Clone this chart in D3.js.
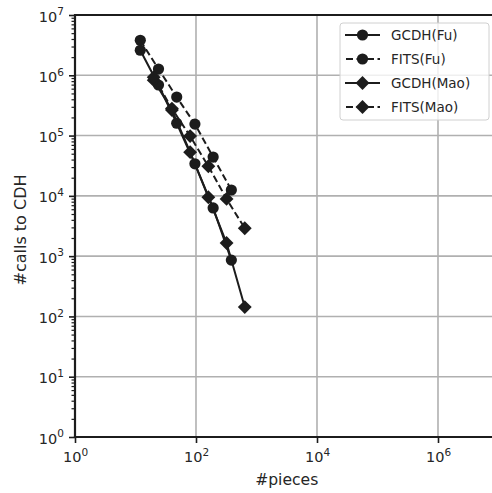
<!DOCTYPE html>
<html>
<head>
<meta charset="utf-8">
<script src="https://cdn.jsdelivr.net/npm/d3@7"></script>
<style>
    body { margin: 0; background: #fff; }
    svg { display: block; font-family: "DejaVu Sans", sans-serif; }
</style>
</head>
<body>
<svg id="drawing_region"></svg>
<script>
// data
const seriesNames = ["GCDH(Fu)", "FITS(Fu)", "GCDH(Mao)", "FITS(Mao)"];
const piecesFu  = [12, 24, 48, 96, 192, 384];
const piecesMao = [20, 40, 80, 160, 320, 640];
const gcdhFu  = [2.6e6, 6.9e5, 1.6e5, 3.4e4, 6.3e3, 860];
const fitsFu  = [3.8e6, 1.27e6, 4.35e5, 1.55e5, 4.4e4, 1.25e4];
const gcdhMao = [8.3e5, 2.65e5, 5.3e4, 9.5e3, 1.65e3, 143];
const fitsMao = [9.3e5, 2.8e5, 9.8e4, 3.1e4, 8.9e3, 2.9e3];
const xTickValues = [1, 1e2, 1e4, 1e6];
const yTickValues = [1, 1e1, 1e2, 1e3, 1e4, 1e5, 1e6, 1e7];

const config = {
    width: 492,
    height: 493,
    margin: {top: 15, left: 75},
    inner_width: 423.5,
    inner_height: 422,
};

const ink = '#1c1c1c';
const textColor = '#262626';

const series = [
    {name: seriesNames[0], x: piecesFu,  y: gcdhFu,  marker: 'circle',  dash: null},
    {name: seriesNames[1], x: piecesFu,  y: fitsFu,  marker: 'circle',  dash: '7,3.5'},
    {name: seriesNames[2], x: piecesMao, y: gcdhMao, marker: 'diamond', dash: null},
    {name: seriesNames[3], x: piecesMao, y: fitsMao, marker: 'diamond', dash: '7,3.5'},
];

const svg = d3.select('#drawing_region')
    .attr('width', config.width)
    .attr('height', config.height);

const chart = svg.append('g')
    .attr('transform', `translate(${config.margin.left}, ${config.margin.top})`);

const xScale = d3.scaleLog().domain([1, 1e7]).range([0, config.inner_width]);
const yScale = d3.scaleLog().domain([1, 1e7]).range([config.inner_height, 0]);

// grid
chart.append('g')
    .selectAll('line')
    .data(xTickValues.slice(1))
    .join('line')
    .attr('x1', d => xScale(d)).attr('x2', d => xScale(d))
    .attr('y1', 0).attr('y2', config.inner_height)
    .attr('stroke', '#b0b0b0').attr('stroke-width', 1.6);

chart.append('g')
    .selectAll('line')
    .data(yTickValues.slice(1, -1))
    .join('line')
    .attr('x1', 0).attr('x2', config.inner_width)
    .attr('y1', d => yScale(d)).attr('y2', d => yScale(d))
    .attr('stroke', '#b0b0b0').attr('stroke-width', 1.6);

// minor y ticks
const yMinor = [];
for (let e = 0; e < 7; e++) {
    for (let m = 2; m <= 9; m++) yMinor.push(m * Math.pow(10, e));
}

// "10" with the exponent as a superscript
const supTick = (sel) => {
    sel.attr('font-family', '"DejaVu Sans", sans-serif').attr('font-size', 14.5);
    sel.selectAll('.tick text').each(function(d) {
        const t = d3.select(this);
        const exp = Math.round(Math.log10(d));
        t.text(null).attr('fill', textColor);
        t.append('tspan').text('10');
        t.append('tspan').attr('dy', '-0.6em').attr('font-size', 10.5).text(exp);
    });
};

const yMinorAxis = chart.append('g')
    .call(d3.axisLeft(yScale).tickValues(yMinor).tickSize(3.5).tickFormat(''));
yMinorAxis.select('.domain').remove();
yMinorAxis.selectAll('line').attr('stroke', ink).attr('stroke-width', 1.2);

const yAxis = chart.append('g')
    .call(d3.axisLeft(yScale).tickValues(yTickValues).tickSize(6).tickPadding(5))
    .call(supTick);
yAxis.select('.domain').remove();
yAxis.selectAll('line').attr('stroke', ink).attr('stroke-width', 1.6);
yAxis.selectAll('text').attr('dy', '0.42em');

const xAxis = chart.append('g')
    .attr('transform', `translate(0, ${config.inner_height})`)
    .call(d3.axisBottom(xScale).tickValues(xTickValues).tickSize(6).tickPadding(4))
    .call(supTick);
xAxis.select('.domain').remove();
xAxis.selectAll('line').attr('stroke', ink).attr('stroke-width', 1.6);
xAxis.selectAll('text').attr('dy', '1.05em');

// lines and markers
const line = d3.line()
    .x(d => xScale(d[0]))
    .y(d => yScale(d[1]));

const circleSym = d3.symbol(d3.symbolCircle, Math.PI * 5.6 * 5.6);
const diamondSym = d3.symbol(d3.symbolSquare, 96);

series.forEach(s => {
    const pts = s.x.map((x, i) => [x, s.y[i]]);
    const g = chart.append('g');
    g.append('path')
        .datum(pts)
        .attr('d', line)
        .attr('fill', 'none')
        .attr('stroke', ink)
        .attr('stroke-width', 2)
        .attr('stroke-dasharray', s.dash);
    g.selectAll('path.mk')
        .data(pts)
        .join('path')
        .attr('class', 'mk')
        .attr('d', s.marker === 'circle' ? circleSym : diamondSym)
        .attr('transform', d => `translate(${xScale(d[0])}, ${yScale(d[1])})` + (s.marker === 'circle' ? '' : ' rotate(45)'))
        .attr('fill', ink);
});

// spines (left, bottom, top)
chart.append('line')
    .attr('x1', 0).attr('x2', 0).attr('y1', 0).attr('y2', config.inner_height)
    .attr('stroke', ink).attr('stroke-width', 2.2);
chart.append('line')
    .attr('x1', -1.1).attr('x2', config.inner_width).attr('y1', config.inner_height).attr('y2', config.inner_height)
    .attr('stroke', ink).attr('stroke-width', 2.2);
chart.append('line')
    .attr('x1', -1.1).attr('x2', config.inner_width).attr('y1', 0).attr('y2', 0)
    .attr('stroke', ink).attr('stroke-width', 2.2);

// axis labels
svg.append('text')
    .attr('x', config.margin.left + config.inner_width / 2)
    .attr('y', 485)
    .attr('text-anchor', 'middle')
    .attr('fill', textColor)
    .style('font-size', '15.6px')
    .text('#pieces');

svg.append('text')
    .attr('transform', `translate(26, ${config.margin.top + config.inner_height / 2 + 4}) rotate(-90)`)
    .attr('text-anchor', 'middle')
    .attr('fill', textColor)
    .style('font-size', '16px')
    .text('#calls to CDH');

// legend
const legend = svg.append('g').attr('transform', 'translate(340, 23)');
legend.append('rect')
    .attr('width', 149).attr('height', 97)
    .attr('rx', 3)
    .attr('fill', 'white').attr('fill-opacity', 0.8)
    .attr('stroke', '#d0d0d0').attr('stroke-width', 1);

series.forEach((s, i) => {
    const row = legend.append('g').attr('transform', `translate(0, ${12 + i * 24})`);
    row.append('line')
        .attr('x1', 5).attr('x2', 40)
        .attr('stroke', ink).attr('stroke-width', 2)
        .attr('stroke-dasharray', s.dash ? '7,3.5' : null)
        .attr('stroke-dashoffset', s.dash ? -1 : null);
    row.append('path')
        .attr('d', s.marker === 'circle' ? circleSym : diamondSym)
        .attr('transform', 'translate(22.5, 0)' + (s.marker === 'circle' ? '' : ' rotate(45)'))
        .attr('fill', ink);
    row.append('text')
        .attr('x', 51).attr('y', 0).attr('dy', '0.36em')
        .attr('fill', textColor)
        .style('font-size', '13.5px')
        .text(s.name);
});
</script>
</body>
</html>
